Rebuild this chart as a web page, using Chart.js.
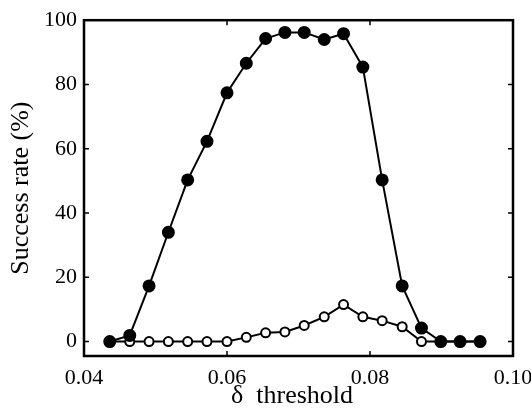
<!DOCTYPE html>
<html>
<head>
<meta charset="utf-8">
<script src="https://cdn.jsdelivr.net/npm/chart.js@4"></script>
<style>
  html, body { margin: 0; padding: 0; background: #fff; }
  #wrap { width: 531px; height: 416px; }
</style>
</head>
<body>
<div id="wrap"><canvas id="rate-chart"></canvas></div>
<script>
// delta threshold values (x)
const thresholds = [0.0436, 0.0464, 0.0491, 0.0518, 0.0545, 0.0572, 0.0600, 0.0627, 0.0654, 0.0681,
                    0.0708, 0.0736, 0.0763, 0.0790, 0.0817, 0.0845, 0.0872, 0.0899, 0.0926, 0.0954];
// filled circles
const rateFilled = [0, 1.9, 17.3, 34, 50.3, 62.3, 77.4, 86.6, 94.3, 96.2,
                    96.2, 94, 95.8, 85.4, 50.3, 17.3, 4.2, 0, 0, 0];
// open circles
const rateOpen = [0, 0, 0, 0, 0, 0, 0, 1.3, 2.7, 3,
                  5, 7.7, 11.5, 7.7, 6.5, 4.6, 0, 0, 0, 0];

const xTicks = [0.04, 0.06, 0.08, 0.10];
const xTickLabels = ['0.04', '0.06', '0.08', '0.10'];
const yTicks = [0, 20, 40, 60, 80, 100];
const yTickLabels = ['0', '20', '40', '60', '80', '100'];

const serif = 'Liberation Serif';

function toPoints(xs, ys) {
    return xs.map((x, i) => ({ x: x, y: ys[i] }));
}

// matlab style box with inward ticks
const boxPlugin = {
    id: 'box',
    afterDraw(chart) {
        const ctx = chart.ctx;
        const a = chart.chartArea;
        const xs = chart.scales.x;
        const ys = chart.scales.y;
        const len = 5;
        ctx.save();
        ctx.strokeStyle = '#000';
        ctx.lineWidth = 1.5;
        ctx.beginPath();
        xTicks.forEach(v => {
            const px = xs.getPixelForValue(v);
            ctx.moveTo(px, a.bottom); ctx.lineTo(px, a.bottom - len);
            ctx.moveTo(px, a.top); ctx.lineTo(px, a.top + len);
        });
        yTicks.forEach(v => {
            const py = ys.getPixelForValue(v);
            ctx.moveTo(a.left, py); ctx.lineTo(a.left + len, py);
            ctx.moveTo(a.right, py); ctx.lineTo(a.right - len, py);
        });
        ctx.stroke();
        ctx.lineWidth = 2.5;
        ctx.strokeRect(a.left, a.top, a.right - a.left, a.bottom - a.top);
        ctx.restore();
    }
};

const data = {
    datasets: [{
        label: 'filled',
        data: toPoints(thresholds, rateFilled),
        borderColor: '#000',
        backgroundColor: '#000',
        borderWidth: 2,
        pointRadius: 5.5,
        pointBorderWidth: 2,
        pointBackgroundColor: '#000',
        pointBorderColor: '#000',
        clip: false
    }, {
        label: 'open',
        data: toPoints(thresholds, rateOpen),
        borderColor: '#000',
        backgroundColor: '#fff',
        borderWidth: 2,
        pointRadius: 4.5,
        pointBorderWidth: 2,
        pointBackgroundColor: '#fff',
        pointBorderColor: '#000',
        clip: false
    }]
};

const config = {
    type: 'line',
    data: data,
    options: {
        responsive: true,
        maintainAspectRatio: false,
        animation: false,
        layout: { padding: { left: 0, top: 20, right: 18, bottom: 0 } },
        plugins: {
            legend: { display: false },
            tooltip: { enabled: false }
        },
        scales: {
            x: {
                type: 'linear',
                min: 0.04,
                max: 0.10,
                grid: { display: false, drawTicks: false },
                border: { display: false },
                afterBuildTicks: scale => { scale.ticks = xTicks.map(v => ({ value: v })); },
                afterFit: scale => { scale.height = 60; scale.paddingLeft = 0; scale.paddingRight = 0; },
                ticks: {
                    padding: 9,
                    maxRotation: 0,
                    color: '#000',
                    font: { family: serif, size: 22 },
                    callback: v => xTickLabels[xTicks.findIndex(t => Math.abs(t - v) < 1e-9)]
                },
                title: {
                    display: true,
                    text: 'δ  threshold  ',
                    color: '#000',
                    font: { family: serif, size: 26 },
                    padding: { top: 0, bottom: 4 }
                }
            },
            y: {
                min: -4.5,
                max: 100,
                grid: { display: false, drawTicks: false },
                border: { display: false },
                afterBuildTicks: scale => { scale.ticks = yTicks.map(v => ({ value: v })); },
                afterFit: scale => { scale.width = 84; },
                ticks: {
                    padding: 7,
                    color: '#000',
                    font: { family: serif, size: 22 },
                    callback: v => yTickLabels[yTicks.indexOf(v)]
                },
                title: {
                    display: true,
                    text: 'Success rate (%)',
                    color: '#000',
                    font: { family: serif, size: 26 },
                    padding: { top: 6, bottom: 0 }
                }
            }
        }
    },
    plugins: [boxPlugin]
};

const rateChart = new Chart(document.getElementById('rate-chart'), config);
</script>
</body>
</html>
